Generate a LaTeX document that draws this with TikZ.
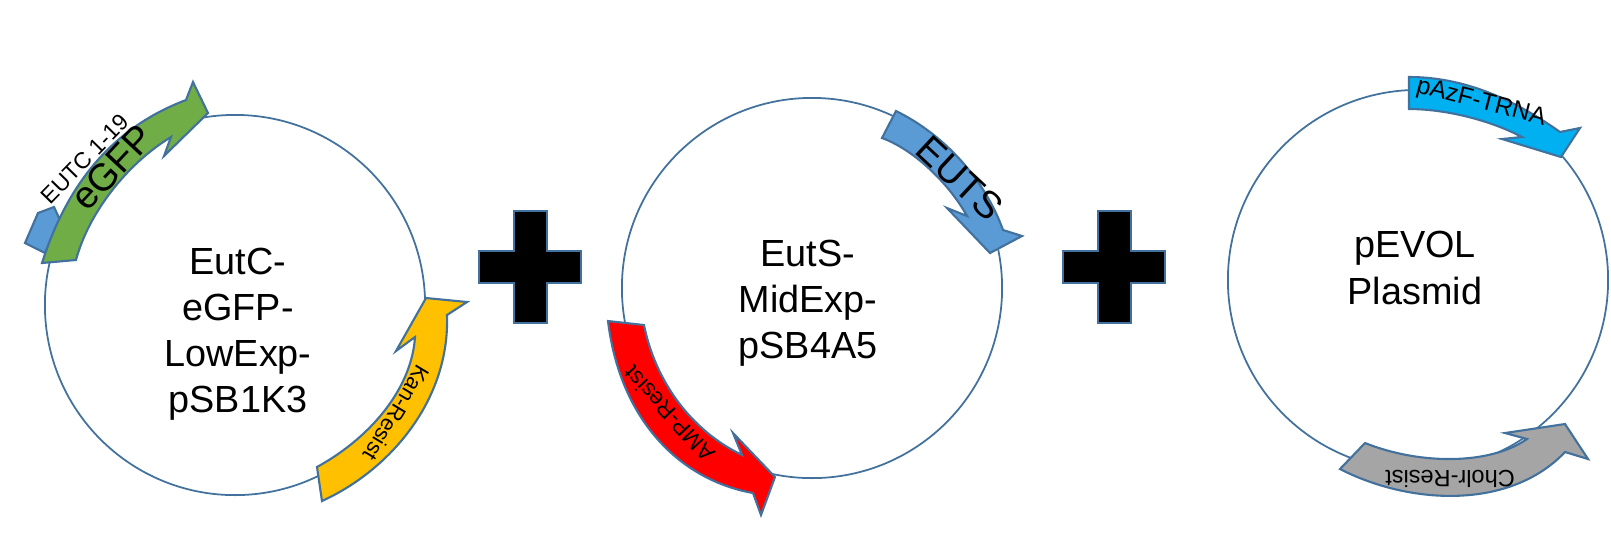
\documentclass[tikz,border=0pt]{standalone}
\usepackage{fontspec}
\setmainfont{Liberation Sans}
\usepackage{xcolor}
\usetikzlibrary{positioning}
\definecolor{edgeBlue}{HTML}{41719C}
\definecolor{geneBlue}{HTML}{5B9BD5}
\definecolor{geneGreen}{HTML}{70AD47}
\definecolor{geneGold}{HTML}{FFC000}
\definecolor{geneRed}{HTML}{FF0000}
\definecolor{geneCyan}{HTML}{00B0F0}
\definecolor{geneGray}{HTML}{A5A5A5}
\tikzset{
  plasmid/.style={draw=edgeBlue, line width=0.5pt, circle, minimum size=3.8cm, inner sep=0pt},
  genearrow/.style={draw=edgeBlue, line width=0.6pt, line join=miter},
  plusmark/.style={draw=edgeBlue, line width=0.6pt, fill=black},
  namelabel/.style={align=center, inner sep=0pt, font=\fontsize{10.75}{13.1}\selectfont},
  bigtag/.style={inner sep=0pt, font=\fontsize{10.9}{13}\selectfont},
  smalltag/.style={inner sep=0pt, font=\fontsize{#1}{8}\selectfont},
}

\begin{document}
\begin{tikzpicture}[x=0.01cm, y=-0.01cm]
\useasboundingbox (0,0) rectangle (1611,532);
% --- three plasmid rings ---
\node[plasmid] (ringA) at (235,305) {};
\node[plasmid] (ringB) at (812,288) {};
\node[plasmid] (ringC) at (1418,280) {};
\node[namelabel] (nameA) at (238,334) {EutC-\\eGFP-\\LowExp-\\pSB1K3};
\node[namelabel] (nameB) at (808,303) {EutS-\\MidExp-\\pSB4A5};
\node[namelabel] (nameC) at (1415,268) {pEVOL\\Plasmid};
% --- first plasmid ---
\draw[genearrow, fill=geneBlue] (25,243) -- (38,213) -- (54,207) -- (60,220) -- (45,253) -- cycle;
\draw[genearrow, fill=geneGreen] (42,263) .. controls (70,175) and (120,125) .. (186,100)
  -- (193,82) -- (208,113) -- (164,156) -- (171,137)
  .. controls (125,165) and (88,215) .. (76,260) -- cycle;
\draw[genearrow, fill=geneGold] (447,315) .. controls (450,400) and (390,470) .. (322,501)
  -- (317,467) .. controls (375,435) and (412,385) .. (415,337)
  -- (396,351) -- (426,298) -- (467,302) -- cycle;
\node[smalltag=6.5, rotate=45.6] (tagEutc) at (85,159) {EUTC 1-19};
\node[bigtag, rotate=47] (tagEgfp) at (112,167) {eGFP};
\node[smalltag=6.2, rotate=-121] (tagKan) at (397,413) {Kan-Resist};
% --- second plasmid ---
\draw[genearrow, fill=geneBlue] (896,111) .. controls (945,135) and (985,180) .. (1003,230)
  -- (1022,236) -- (990,253) -- (947,208) -- (967,216)
  .. controls (950,185) and (915,150) .. (882,138) -- cycle;
\draw[genearrow, fill=geneRed] (608,321) .. controls (620,420) and (680,480) .. (753,493)
  -- (761,515) -- (775,477) -- (733,433) -- (742,455)
  .. controls (690,430) and (655,380) .. (644,325) -- cycle;
\node[bigtag, rotate=-43] (tagEuts) at (960,178) {EUTS};
\node[smalltag=6.5, rotate=133] (tagAmp) at (669,414) {AMP-Resist};
% --- third plasmid ---
\draw[genearrow, fill=geneCyan] (1409,77) .. controls (1465,77) and (1515,100) .. (1560,132)
  -- (1580,128) -- (1561,157) -- (1502,139) -- (1522,137)
  .. controls (1490,120) and (1445,109) .. (1409,109) -- cycle;
\draw[genearrow, fill=geneGray] (1340,469) .. controls (1410,505) and (1510,510) .. (1565,452)
  -- (1588,459) -- (1565,424) -- (1505,433) -- (1527,439)
  .. controls (1490,465) and (1420,465) .. (1365,443) -- cycle;
\node[smalltag=7, rotate=-14.5] (tagAzf) at (1481,103) {pAzF-TRNA};
\node[smalltag=6.7, rotate=180] (tagCm) at (1450,479) {Cholr-Resist};
% --- plus signs ---
\foreach \plusshift in {0,584}
  \draw[plusmark, shift={(\plusshift,0)}] (514,211) -- (547,211) -- (547,251) -- (581,251) -- (581,283)
    -- (547,283) -- (547,323) -- (514,323) -- (514,283) -- (479,283) -- (479,251) -- (514,251) -- cycle;
\end{tikzpicture}
\end{document}
